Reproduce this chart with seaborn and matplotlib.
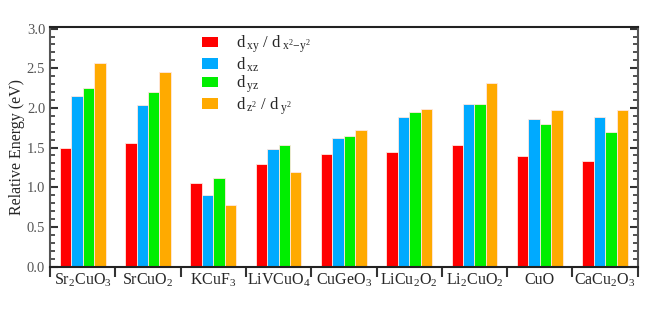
import pandas as pd
import numpy as np
import matplotlib
matplotlib.use('Agg')
import matplotlib.pyplot as plt
import seaborn as sns

# DATA

materials = ['Sr$_2$CuO$_3$', 'SrCuO$_2$', 'KCuF$_3$', 'LiVCuO$_4$', 'CuGeO$_3$',
             'LiCu$_2$O$_2$', 'Li$_2$CuO$_2$', 'CuO', 'CaCu$_2$O$_3$']
orbitals = ['$\\mathregular{d\\,_{xy}}$ / $\\mathregular{d\\,_{x^2\\!-\\!y^2}}$',
            '$\\mathregular{d\\,_{xz}}$',
            '$\\mathregular{d\\,_{yz}}$',
            '$\\mathregular{d\\,_{z^2}}$ / $\\mathregular{d\\,_{y^2}}$']
d_xy = [1.50, 1.56, 1.05, 1.29, 1.42, 1.44, 1.53, 1.39, 1.33]
d_xz = [2.15, 2.04, 0.90, 1.48, 1.62, 1.89, 2.05, 1.86, 1.89]
d_yz = [2.25, 2.20, 1.12, 1.53, 1.65, 1.95, 2.05, 1.80, 1.70]
d_z2 = [2.56, 2.45, 0.77, 1.19, 1.72, 1.99, 2.31, 1.97, 1.97]
colors = ['#ff0000', '#00aaff', '#00ee00', '#ffaa00']

rows = []
for name, vals in zip(orbitals, [d_xy, d_xz, d_yz, d_z2]):
    for m, v in zip(materials, vals):
        rows.append({'Material': m, 'Orbital': name, 'Energy': v})
df = pd.DataFrame(rows)

# STYLE

sns.set_style('ticks')
plt.rcParams['font.family'] = ['Liberation Serif', 'DejaVu Serif']
plt.rcParams['mathtext.fontset'] = 'custom'
plt.rcParams['mathtext.rm'] = 'Liberation Serif'
plt.rcParams['mathtext.it'] = 'Liberation Serif'

fig = plt.figure(figsize=(6.65, 3.09), dpi=100)
ax = fig.add_axes([0.0752, 0.1375, 0.8838, 0.7751])

sns.barplot(data=df, x='Material', y='Energy', hue='Orbital',
            palette=colors, width=0.7, edgecolor='#ffe8e0', linewidth=0.6,
            saturation=1, ax=ax)

ax.set_xlim(-0.5, 8.5)
ax.set_ylim(0, 3.02)

# y ticks
ax.set_yticks(np.arange(0, 3.01, 0.5))
ax.set_yticklabels([f'{v:.1f}' for v in np.arange(0, 3.01, 0.5)], color='#555555')
ax.set_yticks(np.arange(0, 3.01, 0.1), minor=True)
ax.tick_params(axis='y', which='major', direction='in', length=6, width=1.5,
               right=True, labelsize=10.5, color='#333333')
ax.tick_params(axis='y', which='minor', direction='in', length=3.5, width=1.2,
               right=True, color='#333333')

# x ticks: boundaries with ticks, labels at centers
ax.set_xticks(np.arange(-0.5, 9, 1.0))
ax.set_xticklabels([''] * 10)
ax.set_xticks(np.arange(0, 9), minor=True)
ax.set_xticklabels(materials, minor=True, fontsize=11.5)
ax.tick_params(axis='x', which='major', direction='out', length=7, width=1.5,
               color='#333333')
ax.tick_params(axis='x', which='minor', length=0, pad=4)

ax.set_xlabel('')
ax.set_ylabel('Relative Energy (eV)', fontsize=11.5, labelpad=1)

for s in ax.spines.values():
    s.set_linewidth(1.5)
    s.set_color('#222222')
ax.spines['left'].set_color('#555555')
ax.spines['right'].set_color('#555555')

leg = ax.legend(loc='upper left', bbox_to_anchor=(0.247, 1.0), frameon=False,
                fontsize=12, handlelength=0.95, handleheight=0.6,
                labelspacing=0.0, handletextpad=1.1, borderaxespad=0.0)
for h in leg.legend_handles:
    h.set_edgecolor('none')

plt.savefig('out.png', dpi=100)
